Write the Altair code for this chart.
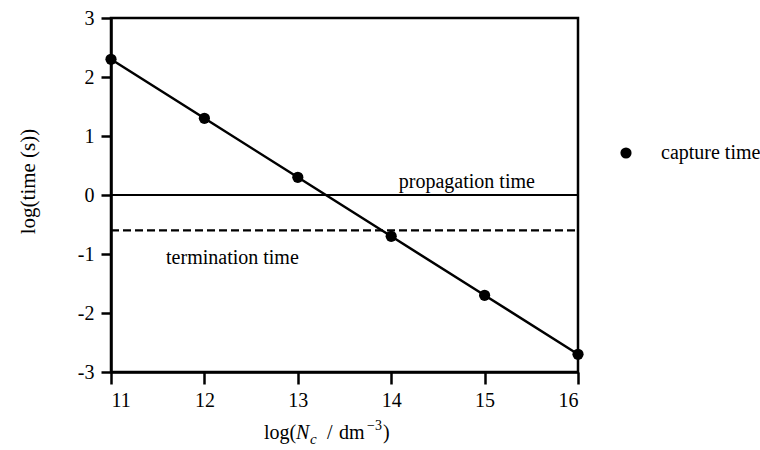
import altair as alt
import pandas as pd

# capture time versus log concentration
log_nc = [11, 12, 13, 14, 15, 16]
log_capture = [2.3, 1.3, 0.3, -0.7, -1.7, -2.7]
series_name = ["capture time"] * 6

propagation_level = 0.0
termination_level = -0.6

x_ticks = [11, 12, 13, 14, 15, 16]
y_ticks = [-3, -2, -1, 0, 1, 2, 3]

FONT = "Liberation Serif"
W, H = 467, 354

pts = pd.DataFrame({"x": log_nc, "y": log_capture, "series": series_name})

x_scale = alt.Scale(domain=[11, 16], nice=False, zero=False)
y_scale = alt.Scale(domain=[-3, 3], nice=False, zero=False)

axis_style = dict(
    grid=False, format="d", labelFontSize=20, labelFont=FONT,
    labelColor="black", domainColor="black", domainWidth=2.5,
    tickColor="black", tickWidth=2.5,
    labelExpr="replace(datum.label, '\u2212', '-')",
)
x_axis = alt.Axis(values=x_ticks, title=None, tickSize=12, labelPadding=6,
                  **axis_style)
y_axis = alt.Axis(values=y_ticks, title="log(time (s))",
                  tickSize=10, labelPadding=7,
                  titleFont=FONT, titleFontSize=21, titleFontWeight="normal",
                  titleColor="black", titleX=-83, titleY=163,
                  titleAlign="center", titleBaseline="middle", titleAngle=270,
                  **axis_style)

base = alt.Chart(pts)

line = base.mark_line(color="black", strokeWidth=2.5).encode(
    x=alt.X("x:Q", scale=x_scale, axis=x_axis),
    y=alt.Y("y:Q", scale=y_scale, axis=y_axis),
)

points = base.mark_point(filled=True, size=125, opacity=1).encode(
    x=alt.X("x:Q", scale=x_scale),
    y=alt.Y("y:Q", scale=y_scale),
    color=alt.Color(
        "series:N",
        scale=alt.Scale(range=["black"]),
        legend=alt.Legend(
            title=None, orient="none", legendX=505, legendY=125,
            symbolSize=125, symbolType="circle", symbolStrokeWidth=0,
            labelFont=FONT, labelFontSize=20, labelColor="black",
            labelOffset=25, padding=0,
        ),
    ),
)

prop_df = pd.DataFrame({"x": [11, 16], "y": [propagation_level] * 2})
term_df = pd.DataFrame({"x": [11, 16], "y": [termination_level] * 2})

prop_line = alt.Chart(prop_df).mark_line(color="black", strokeWidth=2).encode(
    x=alt.X("x:Q", scale=x_scale), y=alt.Y("y:Q", scale=y_scale))
term_line = alt.Chart(term_df).mark_line(
    color="black", strokeWidth=2.2, strokeDash=[8, 4]).encode(
    x=alt.X("x:Q", scale=x_scale), y=alt.Y("y:Q", scale=y_scale))

labels_df = pd.DataFrame({
    "x": [14.81, 12.3],
    "y": [0.22, -1.07],
    "label": ["propagation time", "termination time"],
})
level_labels = alt.Chart(labels_df).mark_text(
    font=FONT, fontSize=20, color="black", align="center", baseline="middle"
).encode(
    x=alt.X("x:Q", scale=x_scale), y=alt.Y("y:Q", scale=y_scale),
    text="label:N")


def piece(txt, px, py, size=20, style="normal"):
    return alt.Chart(pd.DataFrame({"t": [txt]})).mark_text(
        font=FONT, fontSize=size, fontStyle=style, color="black",
        align="left", baseline="alphabetic",
    ).encode(x=alt.value(px), y=alt.value(py), text="t:N")


# x-axis title: log(N_c / dm^-3)
title_parts = [
    piece("log(", 153, 421),
    piece("N", 185, 421, style="italic"),
    piece("c", 199, 426, size=15, style="italic"),
    piece("/", 216, 421),
    piece("dm", 228, 421),
    piece("\u22123", 256, 412, size=14),
    piece(")", 272, 421),
]

chart = alt.layer(
    prop_line, term_line, line, points, level_labels, *title_parts
).properties(
    width=W, height=H,
    background="white",
    autosize=alt.AutoSizeParams(type="none"),
    padding={"left": 111, "top": 18, "right": 182, "bottom": 78},
).configure_view(
    stroke="black", strokeWidth=2.5,
)

chart.save("out.html", embed_options={"renderer": "svg", "actions": False})
